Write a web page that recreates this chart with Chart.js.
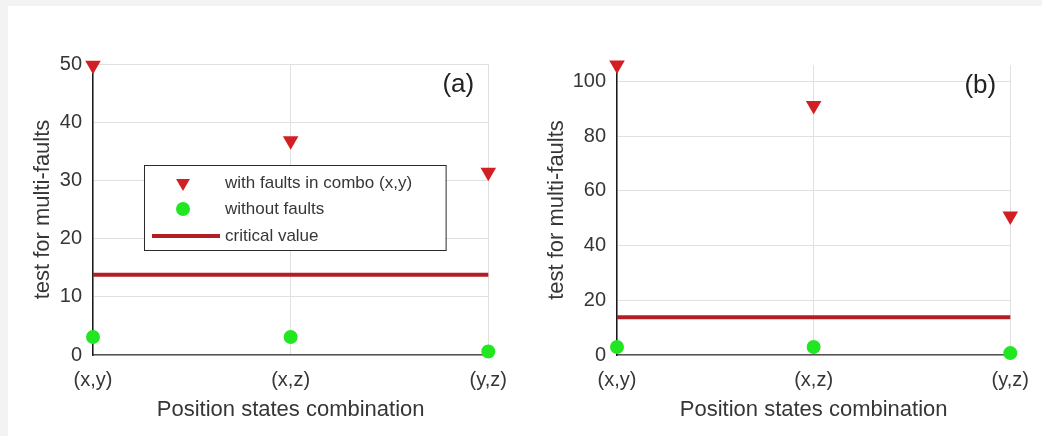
<!DOCTYPE html>
<html>
<head>
<meta charset="utf-8">
<script src="https://cdn.jsdelivr.net/npm/chart.js@4.4.1/dist/chart.umd.min.js"></script>
<style>
  html, body { margin: 0; padding: 0; background: #ffffff; }
  body { width: 1042px; height: 436px; position: relative; overflow: hidden; font-family: 'Liberation Sans', Arial, sans-serif; }
  .topband { position: absolute; left: 0; top: 0; width: 1042px; height: 6px; background: #f3f3f3; }
  .leftband { position: absolute; left: 0; top: 0; width: 8px; height: 436px; background: #f3f3f3; }
  .panel { position: absolute; top: 0; height: 436px; }
  #pa { left: 0; width: 520px; }
  #pb { left: 520px; width: 522px; }
</style>
</head>
<body>
<div class="topband"></div>
<div class="leftband"></div>
<div class="panel" id="pa"><canvas id="ca" width="520" height="436"></canvas></div>
<div class="panel" id="pb"><canvas id="cb" width="522" height="436"></canvas></div>
<script>
// ---- data ----
const categories = ['(x,y)', '(x,z)', '(y,z)'];
const faultsA = [49.8, 36.8, 31.4];
const noFaultsA = [3.1, 3.1, 0.6];
const criticalA = 13.8;
const faultsB = [106, 91.2, 50.8];
const noFaultsB = [2.9, 2.9, 0.7];
const criticalB = 13.8;
const yMaxA = 50, yStepA = 10;
const yMaxB = 106, yStepB = 20;
const panelLabels = ['(a)', '(b)'];
const legendLabels = ['with faults in combo (x,y)', 'without faults', 'critical value'];
const xTitle = 'Position states combination';
const yTitle = 'test for multi-faults';

// ---- styles ----
const FONT = "'Liberation Sans', Arial, sans-serif";
const RED = '#d21f24';
const GREEN = '#22e622';
const CRIT = '#b31e25';
const TEXT = '#363636';
const GRID = '#e0e0e0';

Chart.defaults.font.family = FONT;
Chart.defaults.color = TEXT;

const panelLabelPlugin = {
  id: 'panelLabel',
  afterDraw(chart, args, opts) {
    const {ctx, chartArea} = chart;
    ctx.save();
    ctx.font = '26px ' + FONT;
    ctx.fillStyle = '#222';
    ctx.textAlign = 'center';
    ctx.textBaseline = 'middle';
    ctx.fillText(opts.text, chartArea.right - 30, chartArea.top + 21);
    ctx.restore();
  }
};

const legendBoxPlugin = {
  id: 'legendBox',
  afterDatasetsDraw(chart, args, opts) {
    if (!opts.show) return;
    const {ctx, chartArea} = chart;
    const w = chartArea.right - chartArea.left;
    const x0 = chartArea.left + w * 0.129;
    const x1 = chartArea.left + w * 0.892;
    const y0 = 165, y1 = 250;
    ctx.save();
    ctx.fillStyle = '#fff';
    ctx.fillRect(x0, y0, x1 - x0, y1 - y0);
    ctx.strokeStyle = '#2a2a2a';
    ctx.lineWidth = 1;
    ctx.strokeRect(x0 + 0.5, y0 + 0.5, x1 - x0, y1 - y0);
    const rows = [183, 209, 236];
    const mx = x0 + 39;
    const tx = x0 + 81;
    // triangle
    Chart.helpers.drawPoint(ctx, {pointStyle: 'triangle', radius: 8, rotation: 180}, mx, rows[0]);
    ctx.fillStyle = RED;
    ctx.fill();
    // circle
    ctx.beginPath();
    ctx.arc(mx, rows[1], 7, 0, Math.PI * 2);
    ctx.fillStyle = GREEN;
    ctx.fill();
    // line
    ctx.beginPath();
    ctx.moveTo(x0 + 8, rows[2]);
    ctx.lineTo(x0 + 76, rows[2]);
    ctx.strokeStyle = CRIT;
    ctx.lineWidth = 4;
    ctx.stroke();
    ctx.font = '17px ' + FONT;
    ctx.fillStyle = TEXT;
    ctx.textAlign = 'left';
    ctx.textBaseline = 'middle';
    legendLabels.forEach((t, i) => ctx.fillText(t, tx, rows[i]));
    ctx.restore();
  }
};

function makeChart(id, faults, noFaults, critical, yMax, yStep, cfg) {
  return new Chart(document.getElementById(id), {
    type: 'line',
    data: {
      labels: categories,
      datasets: [
        {
          label: legendLabels[2],
          data: categories.map(() => critical),
          borderColor: CRIT,
          borderWidth: 4,
          pointRadius: 0,
          fill: false,
          clip: false
        },
        {
          label: legendLabels[0],
          data: faults,
          showLine: false,
          pointStyle: 'triangle',
          rotation: 180,
          pointRadius: 9,
          backgroundColor: RED,
          borderColor: RED,
          borderWidth: 0,
          clip: false
        },
        {
          label: legendLabels[1],
          data: noFaults,
          showLine: false,
          pointStyle: 'circle',
          pointRadius: 7,
          backgroundColor: GREEN,
          borderColor: GREEN,
          borderWidth: 0,
          clip: false
        }
      ]
    },
    options: {
      responsive: false,
      animation: false,
      devicePixelRatio: 1,
      layout: { padding: { left: 0, right: cfg.padRight, top: cfg.padTop, bottom: 0 } },
      plugins: {
        legend: { display: false },
        tooltip: { enabled: false },
        panelLabel: { text: cfg.label },
        legendBox: { show: cfg.legend }
      },
      scales: {
        x: {
          type: 'category',
          offset: false,
          grid: { color: GRID, drawTicks: false, lineWidth: 1 },
          border: { display: true, color: '#555', width: 1.5 },
          ticks: { padding: 13, font: { size: 20 }, color: TEXT, maxRotation: 0, autoSkip: false },
          title: { display: true, text: xTitle, font: { size: 22 }, color: TEXT, padding: { top: 0, bottom: 13 } },
          afterFit(s) { s.height = 81; }
        },
        y: {
          type: 'linear',
          min: 0,
          max: yMax,
          grid: { color: GRID, drawTicks: false, lineWidth: 1 },
          border: { display: true, color: '#1a1a1a', width: 1.5 },
          ticks: { stepSize: yStep, includeBounds: false, padding: 11, font: { size: 20 }, color: TEXT },
          title: { display: true, text: yTitle, font: { size: 22 }, color: TEXT, padding: { top: cfg.yTitlePad, bottom: 0 } },
          afterFit(s) { s.width = cfg.yWidth; }
        }
      }
    },
    plugins: [panelLabelPlugin, legendBoxPlugin]
  });
}

makeChart('ca', faultsA, noFaultsA, criticalA, yMaxA, yStepA,
  { padRight: 30, padTop: 64, yWidth: 93, yTitlePad: 30, label: panelLabels[0], legend: true });
makeChart('cb', faultsB, noFaultsB, criticalB, yMaxB, yStepB,
  { padRight: 29, padTop: 65, yWidth: 97, yTitlePad: 24, label: panelLabels[1], legend: false });
</script>
</body>
</html>
